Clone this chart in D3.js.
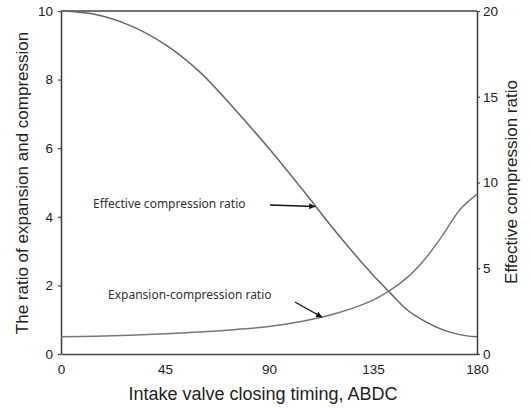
<!DOCTYPE html>
<html><head><meta charset="utf-8">
<script src="https://cdn.jsdelivr.net/npm/d3@7"></script>
<style>body{margin:0;background:#fff}svg{display:block}</style>
</head><body>
<svg id="c" width="531" height="408"></svg>
<script>
const timing = [0,15,30,45,60,75,90,105,120,135,142.5,150,157.5,165,172.5,180];
const effectiveCR = [20.0,19.8,19.15,18.05,16.45,14.3,11.98,9.5,6.95,4.6,3.55,2.55,1.9,1.42,1.13,1.0];
const expCompRatio = [0.5,0.52,0.55,0.59,0.64,0.71,0.8,0.96,1.2,1.57,1.86,2.24,2.77,3.45,4.2,4.66];
const xTicks = [0,45,90,135,180];
const yLeftTicks = [0,2,4,6,8,10];
const yRightTicks = [0,5,10,15,20];

const svg = d3.select("#c");
const L=61,R=477,T=11,B=354;
const x = d3.scaleLinear().domain([0,180]).range([L,R]);
const yL = d3.scaleLinear().domain([0,10]).range([B,T]);
const yR = d3.scaleLinear().domain([0,20]).range([B,T]);
const tickFont = "Liberation Sans, Arial, sans-serif";

function styleAxis(g){
  g.selectAll("path.domain").attr("stroke","#444").attr("stroke-width",1.6);
  g.selectAll(".tick line").attr("stroke","#444").attr("stroke-width",1.2);
  g.selectAll(".tick text").attr("fill","#222").attr("font-size",13.5).attr("font-family",tickFont);
}
svg.append("g").attr("transform",`translate(0,${B})`)
  .call(d3.axisBottom(x).tickValues(xTicks).tickSize(0).tickPadding(10).tickSizeOuter(0)).call(styleAxis);
svg.append("g").attr("transform",`translate(${L},0)`)
  .call(d3.axisLeft(yL).tickValues(yLeftTicks).tickSize(3).tickPadding(5).tickSizeOuter(0)).call(styleAxis);
svg.append("g").attr("transform",`translate(${R},0)`)
  .call(d3.axisRight(yR).tickValues(yRightTicks).tickSize(3).tickPadding(3).tickSizeOuter(0)).call(styleAxis);
svg.append("line").attr("x1",L).attr("x2",R).attr("y1",T).attr("y2",T).attr("stroke","#444").attr("stroke-width",1.6);

const curve = d3.curveCatmullRom.alpha(0.5);
const lineEff = d3.line().x((d,i)=>x(timing[i])).y(d=>yR(d)).curve(curve);
const lineExp = d3.line().x((d,i)=>x(timing[i])).y(d=>yL(d)).curve(curve);
svg.append("path").attr("d",lineEff(effectiveCR)).attr("fill","none").attr("stroke","#666").attr("stroke-width",1.5);
svg.append("path").attr("d",lineExp(expCompRatio)).attr("fill","none").attr("stroke","#777").attr("stroke-width",1.5);

svg.append("text").attr("x",(L+R)/2-6).attr("y",400).attr("text-anchor","middle")
  .attr("font-family",tickFont).attr("font-size",18).attr("fill","#222").text("Intake valve closing timing, ABDC");
svg.append("text").attr("transform","translate(28,183) rotate(-90)").attr("text-anchor","middle")
  .attr("font-family",tickFont).attr("font-size",17).attr("fill","#222").text("The ratio of expansion and compression");
svg.append("text").attr("transform","translate(517,182) rotate(-90)").attr("text-anchor","middle")
  .attr("font-family",tickFont).attr("font-size",17).attr("fill","#222").text("Effective compression ratio");

svg.append("defs").append("marker").attr("id","ah").attr("viewBox","0 0 10 10").attr("refX",10).attr("refY",5)
  .attr("markerWidth",10).attr("markerHeight",6).attr("markerUnits","userSpaceOnUse").attr("orient","auto")
  .append("path").attr("d","M0,0L10,5L0,10z").attr("fill","#111");
const annFont = "Noto Sans, Open Sans, sans-serif";
svg.append("text").attr("x",93).attr("y",208).attr("font-family",annFont).attr("font-size",12).attr("fill","#333").text("Effective compression ratio");
svg.append("text").attr("x",108).attr("y",299).attr("font-family",annFont).attr("font-size",12).attr("fill","#333").text("Expansion-compression ratio");
svg.append("line").attr("x1",270).attr("y1",205).attr("x2",x(110)).attr("y2",yR(8.6))
  .attr("stroke","#111").attr("stroke-width",1.3).attr("marker-end","url(#ah)");
svg.append("line").attr("x1",295).attr("y1",302).attr("x2",x(113)).attr("y2",yL(1.07))
  .attr("stroke","#111").attr("stroke-width",1.3).attr("marker-end","url(#ah)");
</script>
</body></html>
